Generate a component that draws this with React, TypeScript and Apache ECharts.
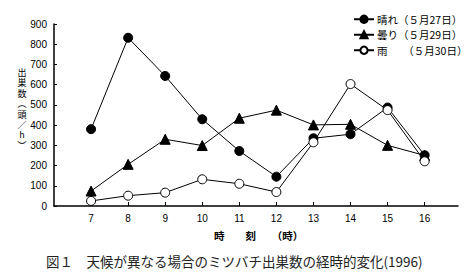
import React, { useEffect, useRef } from "react";
import * as echarts from "echarts";

const hours = [7, 8, 9, 10, 11, 12, 13, 14, 15, 16];
const sunny = [380, 832, 643, 429, 272, 145, 335, 355, 487, 251];
const cloudy = [74, 206, 330, 299, 434, 474, 401, 404, 300, 250];
const rainy = [25, 51, 66, 132, 110, 69, 315, 603, 474, 221];
const seriesNames = ["晴れ（５月27日）", "曇り（５月29日）", "雨　　（５月30日）"];
const yTicks = [0, 100, 200, 300, 400, 500, 600, 700, 800, 900];
const yTitleChars = ["出", "巣", "数", "︵", "頭", "／", "h", "︶"];

const sansFont = "'Liberation Sans', Arial, sans-serif";
const cjkFont = "'Noto Sans CJK JP', sans-serif";

export default function App() {
  const ref = useRef<HTMLDivElement>(null);
  useEffect(() => {
    document.body.style.margin = "0";
    const chart = echarts.init(ref.current!, null, { renderer: "svg" });
    const mk = (name: string, vals: number[], symbol: string, fill: string) => ({
      name,
      type: "line",
      data: hours.map((h, i) => [h, vals[i]]),
      symbol,
      symbolSize: symbol === "triangle" ? 10 : 9,
      lineStyle: { color: "#000", width: 1 },
      itemStyle: { color: fill, borderColor: "#000", borderWidth: 1 },
      z: 3,
    });
    chart.setOption({
      animation: false,
      backgroundColor: "#fff",
      grid: { left: 54, right: 13, top: 24, bottom: 73 },
      xAxis: {
        type: "value",
        min: 6,
        max: 16.9,
        interval: 1,
        axisLine: { lineStyle: { color: "#000", width: 1.5 } },
        axisTick: { inside: true, length: 4, lineStyle: { color: "#000" }, customValues: hours },
        axisLabel: {
          customValues: hours,
          color: "#000",
          fontFamily: sansFont,
          fontSize: 10,
          margin: 7,
        },
        splitLine: { show: false },
      },
      yAxis: {
        type: "value",
        min: 0,
        max: 900,
        interval: 100,
        axisLine: { show: true, lineStyle: { color: "#000", width: 1.5 } },
        axisTick: { show: true, inside: true, length: 3, lineStyle: { color: "#000" }, customValues: yTicks },
        axisLabel: {
          customValues: yTicks,
          color: "#000",
          fontFamily: sansFont,
          fontSize: 10,
          margin: 7,
        },
        splitLine: { show: false },
      },
      legend: {
        orient: "vertical",
        left: 348,
        top: 9,
        itemWidth: 20,
        itemHeight: 9,
        itemGap: 5,
        textStyle: { color: "#000", fontFamily: cjkFont, fontSize: 10.5, padding: [0, 0, 0, -2] },
        data: seriesNames,
      },
      series: [
        mk(seriesNames[0], sunny, "circle", "#000"),
        mk(seriesNames[1], cloudy, "triangle", "#000"),
        mk(seriesNames[2], rainy, "circle", "#fff"),
      ],
      graphic: [
        ...yTitleChars.map((c, i) => ({
          type: "text",
          x: 22,
          y: 73 + i * 10.4,
          style: {
            text: c,
            fontFamily: "'Liberation Sans', 'Noto Sans CJK JP', sans-serif",
            fontSize: 9,
            lineHeight: 10,
            fill: "#000",
            align: "center",
            verticalAlign: "middle",
          },
        })),
        {
          type: "text",
          left: 214,
          top: 230,
          style: {
            text: "時　　刻　　（時）",
            fontFamily: cjkFont,
            fontSize: 10.5,
            fontWeight: "bold",
            fill: "#000",
          },
        },
        {
          type: "text",
          left: 46,
          top: 254,
          style: {
            text: "図１　天候が異なる場合のミツバチ出巣数の経時的変化(1996)",
            fontFamily: cjkFont,
            fontSize: 13.5,
            fill: "#222",
          },
        },
      ],
    });
    return () => chart.dispose();
  }, []);
  return <div ref={ref} style={{ width: 471, height: 279 }} />;
}
